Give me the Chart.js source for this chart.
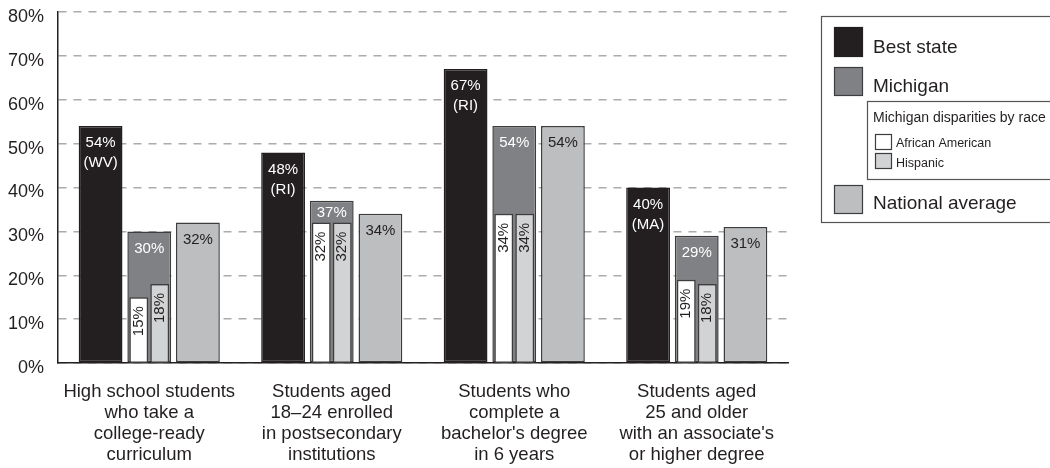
<!DOCTYPE html>
<html lang="en">
<head>
<meta charset="UTF-8">
<title>College readiness and attainment</title>
<script src="https://cdn.jsdelivr.net/npm/chart.js"></script>
<style>
    body { margin: 0; background: #fff; }
    #wrap { position: relative; width: 1050px; height: 468px; }
    #wrap canvas { position: absolute; left: 0; top: 0; }
    #raceChart { pointer-events: none; }
</style>
</head>
<body>
<div id="wrap">
    <canvas id="attainmentChart" width="1050" height="468"></canvas>
    <canvas id="raceChart" width="1050" height="468"></canvas>
</div>
<script>
// categories (multi-line axis labels)
var categories = [
    ["High school students", "who take a", "college-ready", "curriculum"],
    ["Students aged", "18\u201324 enrolled", "in postsecondary", "institutions"],
    ["Students who", "complete a", "bachelor's degree", "in 6 years"],
    ["Students aged", "25 and older", "with an associate's", "or higher degree"]
];

// percentages per group
var bestState = [54, 48, 67, 40];
var bestStateCodes = ["WV", "RI", "RI", "MA"];
var michigan = [30, 37, 54, 29];
var africanAmerican = [15, 32, 34, 19];
var hispanic = [18, 32, 34, 18];
var nationalAverage = [32, 34, 54, 31];

// y axis
var yMin = 0;
var yMax = 80;
var yStep = 10;

var FONT = '"Liberation Sans", Arial, Helvetica, sans-serif';
var INK = '#231f20';
var EDGE = '#3d3d3d';
var COLORS = {
    best: '#231f20',
    michigan: '#808184',
    national: '#bcbec0',
    africanAmerican: '#ffffff',
    hispanic: '#d1d3d4'
};

// value labels at the top of each bar
var barLabels = {
    id: 'barLabels',
    afterDatasetsDraw: function (chart) {
        var ctx = chart.ctx;
        var yScale = chart.scales.y;
        ctx.save();
        ctx.font = '15px ' + FONT;
        ctx.textBaseline = 'middle';
        chart.data.datasets.forEach(function (ds, i) {
            var meta = chart.getDatasetMeta(i);
            meta.data.forEach(function (bar, j) {
                var txt = ds.data[j] + '%';
                ctx.fillStyle = ds.labelColor;
                if (ds.rotatedLabel) {
                    ctx.save();
                    ctx.translate(bar.x, bar.y + 9);
                    ctx.rotate(-Math.PI / 2);
                    ctx.textAlign = 'right';
                    ctx.fillText(txt, 0, 0);
                    ctx.restore();
                    return;
                }
                var ly = bar.y + 17;
                if (ds.innerTops) {
                    // keep the Michigan label above the race bars drawn inside it
                    var inner = yScale.getPixelForValue(ds.innerTops[j]);
                    ly = Math.min(ly, (bar.y + inner) / 2 + 1);
                }
                ctx.textAlign = 'center';
                ctx.fillText(txt, bar.x, ly);
                if (ds.codes) {
                    ctx.fillText('(' + ds.codes[j] + ')', bar.x, ly + 20);
                }
            });
        });
        ctx.restore();
    }
};

// boxed legend on the right, with the nested race breakdown
var legendBox = {
    id: 'legendBox',
    afterDraw: function (chart) {
        var ctx = chart.ctx;
        function swatch(x, y, w, h, fill, stroke) {
            ctx.fillStyle = fill;
            ctx.fillRect(x, y, w, h);
            ctx.lineWidth = 1.2;
            ctx.strokeStyle = stroke;
            ctx.strokeRect(x + 0.5, y + 0.5, w - 1, h - 1);
        }
        ctx.save();
        ctx.lineWidth = 1.2;
        ctx.strokeStyle = '#555';
        ctx.strokeRect(821.5, 16.5, 260, 206);
        ctx.strokeRect(867.5, 101.5, 220, 78);

        ctx.textAlign = 'left';
        ctx.textBaseline = 'alphabetic';

        swatch(834, 27, 29, 30, COLORS.best, COLORS.best);
        swatch(834, 67, 29, 29, COLORS.michigan, EDGE);
        swatch(834, 185, 29, 29, COLORS.national, EDGE);
        ctx.fillStyle = INK;
        ctx.font = '19px ' + FONT;
        ctx.fillText('Best state', 873, 53);
        ctx.fillText('Michigan', 873, 92);
        ctx.fillText('National average', 873, 209);

        ctx.font = '14px ' + FONT;
        ctx.fillText('Michigan disparities by race', 873, 122);

        swatch(875, 134, 17, 16, COLORS.africanAmerican, EDGE);
        swatch(875, 153, 17, 16, COLORS.hispanic, EDGE);
        ctx.fillStyle = INK;
        ctx.font = '12.5px ' + FONT;
        ctx.fillText('African American', 896, 147);
        ctx.fillText('Hispanic', 896, 167);
        ctx.restore();
    }
};

function barStyle(color, edge, extra) {
    var base = {
        backgroundColor: color,
        borderColor: edge,
        borderWidth: 1.5,
        borderSkipped: false,
        categoryPercentage: 0.8,
        barPercentage: 0.9
    };
    return Object.assign(base, extra);
}

var innerTops = michigan.map(function (v, i) {
    return Math.max(africanAmerican[i], hispanic[i]);
});

var mainChart = new Chart(document.getElementById('attainmentChart').getContext('2d'), {
    type: 'bar',
    data: {
        labels: categories,
        datasets: [
            barStyle(COLORS.best, COLORS.best, {
                label: 'Best state', data: bestState, codes: bestStateCodes, labelColor: '#ffffff'
            }),
            barStyle(COLORS.michigan, EDGE, {
                label: 'Michigan', data: michigan, innerTops: innerTops, labelColor: '#ffffff'
            }),
            barStyle(COLORS.national, EDGE, {
                label: 'National average', data: nationalAverage, labelColor: INK
            })
        ]
    },
    options: {
        responsive: false,
        animation: false,
        layout: { padding: { top: 12, right: 262, left: 0, bottom: 0 } },
        plugins: {
            legend: { display: false },
            tooltip: { enabled: false }
        },
        scales: {
            x: {
                offset: true,
                grid: { display: false, drawTicks: false },
                border: { color: INK, width: 1.5 },
                ticks: {
                    color: INK,
                    font: { family: FONT, size: 18.5, lineHeight: 1.12 },
                    padding: 19,
                    maxRotation: 0,
                    minRotation: 0,
                    autoSkip: false
                },
                afterFit: function (scale) {
                    scale.height = 105;
                    scale.paddingLeft = 0;
                    scale.paddingRight = 0;
                }
            },
            y: {
                min: yMin,
                max: yMax,
                grid: { color: '#ababab', lineWidth: 1.5, drawTicks: false },
                border: { color: INK, width: 1.5, dash: [8, 7] },
                ticks: {
                    stepSize: yStep,
                    color: INK,
                    font: { family: FONT, size: 18 },
                    padding: 14,
                    labelOffset: 5,
                    callback: function (v) { return v + '%'; }
                },
                afterFit: function (scale) {
                    scale.width = 58;
                    scale.paddingTop = 0;
                    scale.paddingBottom = 0;
                }
            }
        }
    },
    plugins: [barLabels, legendBox]
});

// race breakdown sits inside the Michigan bars: a second chart laid over
// the first one, sharing its plot area and value range
var area = mainChart.chartArea;
var raceChart = new Chart(document.getElementById('raceChart').getContext('2d'), {
    type: 'bar',
    data: {
        labels: categories,
        datasets: [
            barStyle(COLORS.africanAmerican, EDGE, {
                label: 'African American', data: africanAmerican,
                categoryPercentage: 0.23, labelColor: INK, rotatedLabel: true
            }),
            barStyle(COLORS.hispanic, EDGE, {
                label: 'Hispanic', data: hispanic,
                categoryPercentage: 0.23, labelColor: INK, rotatedLabel: true
            })
        ]
    },
    options: {
        responsive: false,
        animation: false,
        layout: {
            padding: {
                left: area.left,
                top: area.top,
                right: mainChart.width - area.right,
                bottom: mainChart.height - area.bottom
            }
        },
        plugins: {
            legend: { display: false },
            tooltip: { enabled: false }
        },
        scales: {
            x: { display: false, offset: true },
            y: { display: false, min: yMin, max: yMax }
        }
    },
    plugins: [barLabels]
});
</script>
</body>
</html>
